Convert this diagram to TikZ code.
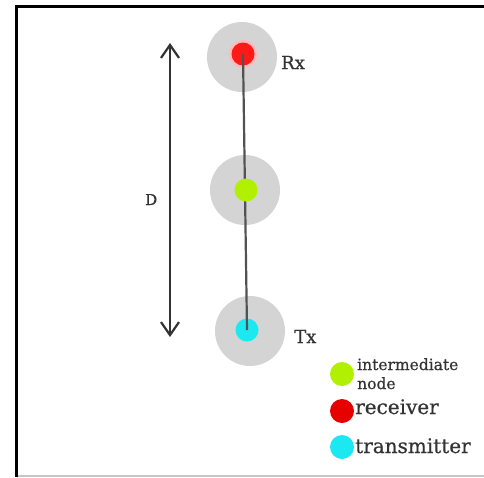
\documentclass[tikz,border=0pt]{standalone}
\usepackage{fontspec}
\setmainfont{DejaVu Serif}[FakeBold=0.6]
\usetikzlibrary{arrows.meta}
\definecolor{halo}{HTML}{D4D4D4}
\definecolor{rxred}{HTML}{FF1A1A}
\definecolor{midgreen}{HTML}{B0F000}
\definecolor{txcyan}{HTML}{1CE8F2}
\definecolor{legred}{HTML}{E60000}
\definecolor{ink}{HTML}{333333}
\tikzset{
  haloc/.style={circle, fill=halo, minimum size=70pt, inner sep=0pt},
  dot/.style={circle, fill=#1, minimum size=23pt, inner sep=0pt},
  glow/.style={circle, fill=#1, minimum size=28pt, inner sep=0pt},
  legdot/.style={circle, fill=#1, minimum size=24pt, inner sep=0pt},
  lbl/.style={text=ink, inner sep=0pt, anchor=base west},
  link/.style={draw=ink!85, line width=2.2pt},
  span/.style={draw=ink, line width=2.2pt,
    {Straight Barb[length=13pt,width=18pt,line width=2.2pt]}-{Straight Barb[length=13pt,width=18pt,line width=2.2pt]}}
}
\begin{document}
\begin{tikzpicture}[x=1pt, y=-1pt]
  \useasboundingbox (0,0) rectangle (484,477);
  \fill[white] (0,0) rectangle (484,477);
  % frame
  \draw[gray!45, line width=2pt] (16,476) -- (484,476);
  \draw[black, line width=3pt] (16.5,477) -- (16.5,6.5) -- (484,6.5);

  % halos
  \node[haloc] (rxh) at (242,57) {};
  \node[haloc] (mh) at (245,190) {};
  \node[haloc] (txh) at (250,331) {};

  % end points
  \node[glow=rxred!30] at (243,54) {};
  \node[dot=rxred] (rx) at (243,54) {};
  \node[dot=txcyan] (tx) at (247,330) {};

  % link through the relay
  \draw[link] (rx.center) -- (tx.center);
  \node[dot=midgreen] (mid) at (246,190) {};

  \node[lbl, font=\fontsize{18}{20}\selectfont] (rxl) at (281,69) {Rx};
  \node[lbl, font=\fontsize{18}{20}\selectfont] (txl) at (294,343) {Tx};

  % distance arrow
  \coordinate (dtop) at (170,43);
  \coordinate (dbot) at (170,337);
  \draw[span] (dtop) -- (dbot);
  \node[lbl, font=\fontsize{15}{18}\selectfont] (dl) at (145,205) {D};

  % legend
  \node[legdot=midgreen] (lg) at (342,374) {};
  \node[lbl, font=\fontsize{15.5}{18}\selectfont] (lgt1) at (357,370) {intermediate};
  \node[lbl, font=\fontsize{15.5}{18}\selectfont] (lgt2) at (357,389) {node};
  \node[legdot=legred] (lr) at (342,411) {};
  \node[lbl, font=\fontsize{20}{24}\selectfont] (lrt) at (355,414) {receiver};
  \node[legdot=txcyan] (lc) at (342,447) {};
  \node[lbl, font=\fontsize{20}{24}\selectfont] (lct) at (355,453) {transmitter};
\end{tikzpicture}
\end{document}
